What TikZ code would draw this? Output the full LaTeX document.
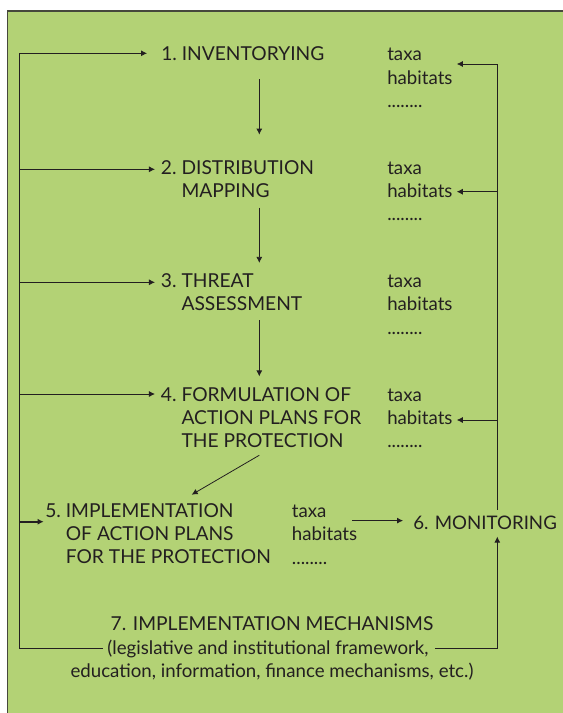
\documentclass[tikz,border=0pt]{standalone}
\usepackage{fontspec}
\setmainfont{Lato}
\usepackage{xcolor}
\usetikzlibrary{arrows.meta,positioning,calc}

\definecolor{leafgreen}{RGB}{179,210,117}
\definecolor{inkblack}{RGB}{35,31,32}
\definecolor{rimgray}{RGB}{70,72,60}

\tikzset{
  wire/.style={draw=inkblack, line width=0.6pt},
  flow/.style={wire, -{Latex[length=4.5pt,width=4.5pt]}},
  stage/.style={anchor=base west, inner sep=0pt, text=inkblack, font=\fontsize{14.4}{17.6}\selectfont},
  items/.style={stage, font=\fontsize{14}{17.6}\selectfont},
  note/.style={anchor=base, inner sep=0pt, text=inkblack, font=\fontsize{14}{17.6}\selectfont}
}

\newcommand{\taxalist}{\begin{tabular}[t]{@{}l@{}}taxa\\habitats\\........\end{tabular}}

\begin{document}
\begin{tikzpicture}[x=0.75pt, y=-0.75pt]
    \useasboundingbox (0,0) rectangle (563,713);
    % green panel
    \fill[leafgreen] (7.5,11) rectangle (580,730);
    \draw[rimgray, line width=0.9pt] (7.5,730) -- (7.5,11) -- (580,11);

    % stages
    \node[stage] (s1) at (161,61) {\begin{tabular}[t]{@{}l@{\ }l@{}}1.&INVENTORYING\end{tabular}};
    \node[stage] (s2) at (160.7,174) {\begin{tabular}[t]{@{}l@{\ }l@{}}2.&DISTRIBUTION\\&MAPPING\end{tabular}};
    \node[stage] (s3) at (160.7,287.5) {\begin{tabular}[t]{@{}l@{\ }l@{}}3.&THREAT\\&ASSESSMENT\end{tabular}};
    \node[stage] (s4) at (160.7,401) {\begin{tabular}[t]{@{}l@{\ }l@{}}4.&FORMULATION OF\\&ACTION PLANS FOR\\&THE PROTECTION\end{tabular}};
    \node[stage] (s5) at (45,517) {\begin{tabular}[t]{@{}l@{\ }l@{}}5.&IMPLEMENTATION\\&OF ACTION PLANS\\&FOR THE PROTECTION\end{tabular}};
    \node[stage, font=\fontsize{14}{17.6}\selectfont] (s6) at (413,529.3) {\begin{tabular}[t]{@{}l@{}}6. MONITORING\end{tabular}};

    % taxa / habitats lists
    \node[items] (d1) at (387,61) {\taxalist};
    \node[items] (d2) at (387,174) {\taxalist};
    \node[items] (d3) at (387,287.5) {\taxalist};
    \node[items] (d4) at (387,401) {\taxalist};
    \node[items] (d5) at (291.7,517.3) {\taxalist};

    % mechanisms
    \node[note, font=\fontsize{14.4}{17.6}\selectfont] (m7) at (272,630) {7. IMPLEMENTATION MECHANISMS};
    \node[note] (m7a) at (268,654) {(legislative and institutional framework,};
    \node[note] (m7b) at (272,677) {education, information, finance mechanisms, etc.)};

    % feedback lines
    \coordinate (l1) at (19.5,53.3);
    \coordinate (l2) at (19.5,169.3);
    \coordinate (l3) at (19.5,282.3);
    \coordinate (l4) at (19.5,394);
    \coordinate (l5) at (19.5,521.7);
    \coordinate (r1) at (497.3,64);
    \coordinate (r2) at (497.3,191.7);
    \coordinate (r4) at (497.3,420);
    \coordinate (spine) at (259.3,0);
    \coordinate (tip6) at ([yshift=3pt]s6.west);

    % down the chain
    \draw[flow, shorten <=8.2pt, shorten >=17pt] (s1.south -| spine) -- (s2.north -| spine);
    \draw[flow, shorten <=2.1pt, shorten >=5.9pt] (s2.south -| spine) -- (s3.north -| spine);
    \draw[flow, shorten <=1.5pt, shorten >=5.9pt] (s3.south -| spine) -- (s4.north -| spine);
    \draw[flow] (s4.south -| spine) -- ([xshift=110pt,yshift=4.2pt]s5.north west);
    \draw[flow, shorten <=-4pt, shorten >=7.5pt] (d5.east |- tip6) -- (tip6);

    % left loop
    \draw[wire, shorten >=3.2pt] (l1) -- (l1 |- m7a.west) -- (m7a.west);
    \draw[flow, shorten >=10.5pt] (l1) -- (l1 -| s1.west);
    \draw[flow, shorten >=4.3pt] (l2) -- (l2 -| s2.west);
    \draw[flow, shorten >=4.3pt] (l3) -- (l3 -| s3.west);
    \draw[flow, shorten >=4.3pt] (l4) -- (l4 -| s4.west);
    \draw[flow, line width=1.4pt, shorten >=1pt] (l5) -- (l5 -| s5.west);

    % right loop
    \draw[wire, shorten <=2pt] (s6.north -| r1) -- (r1);
    \draw[flow, shorten >=3pt] (r1) -- (r1 -| d1.east);
    \draw[flow, shorten >=3pt] (r2) -- (r2 -| d2.east);
    \draw[flow, shorten >=3pt] (r4) -- (r4 -| d4.east);
    \draw[flow, shorten <=4.5pt] (m7a.east) -| (s6.south -| r1);
\end{tikzpicture}
\end{document}
